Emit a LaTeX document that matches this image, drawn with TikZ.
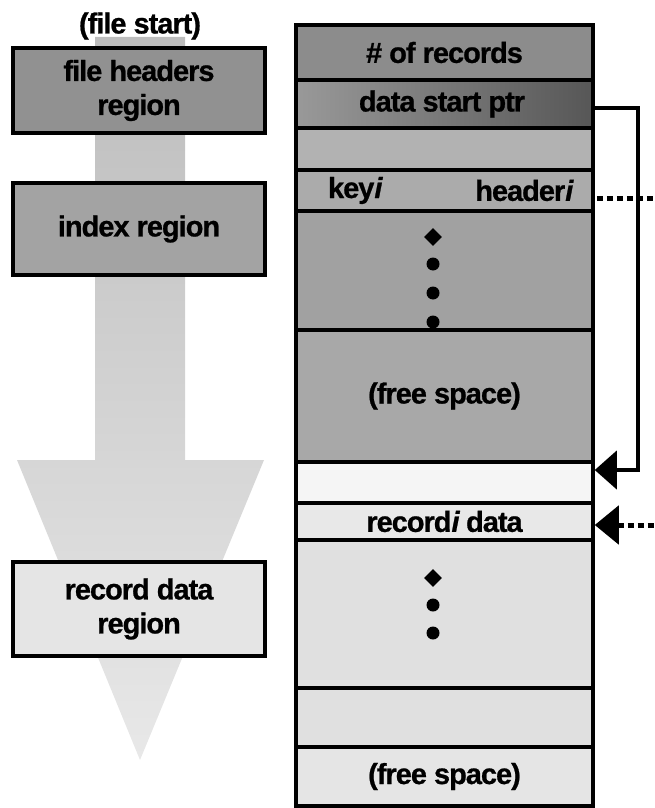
\documentclass[tikz,border=0pt]{standalone}
\usepackage{fontspec}
\setmainfont{Liberation Sans}[LetterSpace=-3.5, BoldFeatures={FakeBold=0.8}, BoldItalicFeatures={FakeBold=0.8}]
\usetikzlibrary{arrows.meta,calc,shapes.geometric}
\begin{document}
\begin{tikzpicture}[x=1pt,y=-1pt,
  every node/.style={font=\fontsize{29}{34}\selectfont\bfseries, text=black},
  rowbox/.style={draw=black, line width=3.5pt, inner sep=0pt, minimum width=297pt, anchor=center},
  leftbox/.style={draw=black, line width=3.5pt, inner sep=0pt, minimum width=252pt, align=center},
  dotdia/.style={diamond, fill=black, inner sep=0pt, minimum size=18pt},
  dotcirc/.style={circle, fill=black, inner sep=0pt, minimum size=13pt},
  ptr/.style={line width=4pt, -{Triangle[length=22pt,width=38pt]}},
  dotline/.style={line width=5pt, dash pattern=on 6pt off 4pt},
  dotarrow/.style={line width=5pt, dash pattern=on 6pt off 4pt, {Triangle[length=24pt,width=38pt]}-}
]
\useasboundingbox (0,0) rectangle (655,808);

% big background arrow
\shade[top color=black!26, bottom color=black!9]
  (95,37) -- (185,37) -- (185,460) -- (264,460) -- (140,760) -- (17,460) -- (95,460) -- cycle;

% left column
\node (fs) at (140,26) {(file start)};
\node[leftbox, fill=black!43, minimum height=85pt] (fh) at (139,90.5) {file headers\\region};
\node[leftbox, fill=black!36, minimum height=92pt] (ir) at (139,229) {index region};
\node[leftbox, fill=black!10, minimum height=94pt] (rd) at (139,609) {record data\\region};

% right column rows
\node[rowbox, fill=black!45, minimum height=55pt] (r1) at (444.5,52.5) {\# of records};
\node[rowbox, left color=black!40, right color=black!66, minimum height=48pt] (r2) at (444.5,104) {};
\node (r2t) at (442,104) {data start ptr};
\node[rowbox, fill=black!30, minimum height=42pt] (r3) at (444.5,149) {};
\node[rowbox, fill=black!33, minimum height=41pt] (r4) at (444.5,190.5) {};
\node (keyi) at (355,190.5) {key\textit{i}};
\node (headeri) at (524,190.5) {header\textit{i}};
\node[rowbox, fill=black!37, minimum height=119pt] (r5) at (444.5,270.5) {};
\node[rowbox, fill=black!34, minimum height=132pt] (r6) at (444.5,396) {(free space)};
\node[rowbox, fill=black!4, minimum height=41pt] (r7) at (444.5,482.5) {};
\node[rowbox, fill=black!9, minimum height=37pt] (r8) at (444.5,521.5) {record\textit{i} data};
\node[rowbox, fill=black!12, minimum height=148pt] (r9) at (444.5,614) {};
\node[rowbox, fill=black!12, minimum height=59pt] (r10) at (444.5,717.5) {};
\node[rowbox, fill=black!10, minimum height=59pt] (r11) at (444.5,776.5) {(free space)};

% ellipsis dots
\node[dotdia] (d1) at (433,237) {};
\node[dotcirc] (d2) at (433,264) {};
\node[dotcirc] (d3) at (433,293) {};
\node[dotcirc] (d4) at (433,322) {};
\node[dotdia] (e1) at (433,578) {};
\node[dotcirc] (e2) at (433,605) {};
\node[dotcirc] (e3) at (433,633) {};

% data start pointer
\coordinate (ptop) at (638,108);
\coordinate (pbot) at (638,470);
\draw[ptr] (r2.east |- ptop) -- (ptop) -- (pbot) -- (r7.east |- pbot);

% dotted connectors leaving the picture
\coordinate (hout) at (655,198);
\coordinate (rin) at (655,525);
\draw[dotline] (r4.east |- hout) ++(2,0) -- (hout);
\draw[dotarrow] (r8.east |- rin) -- (rin);
\end{tikzpicture}
\end{document}
